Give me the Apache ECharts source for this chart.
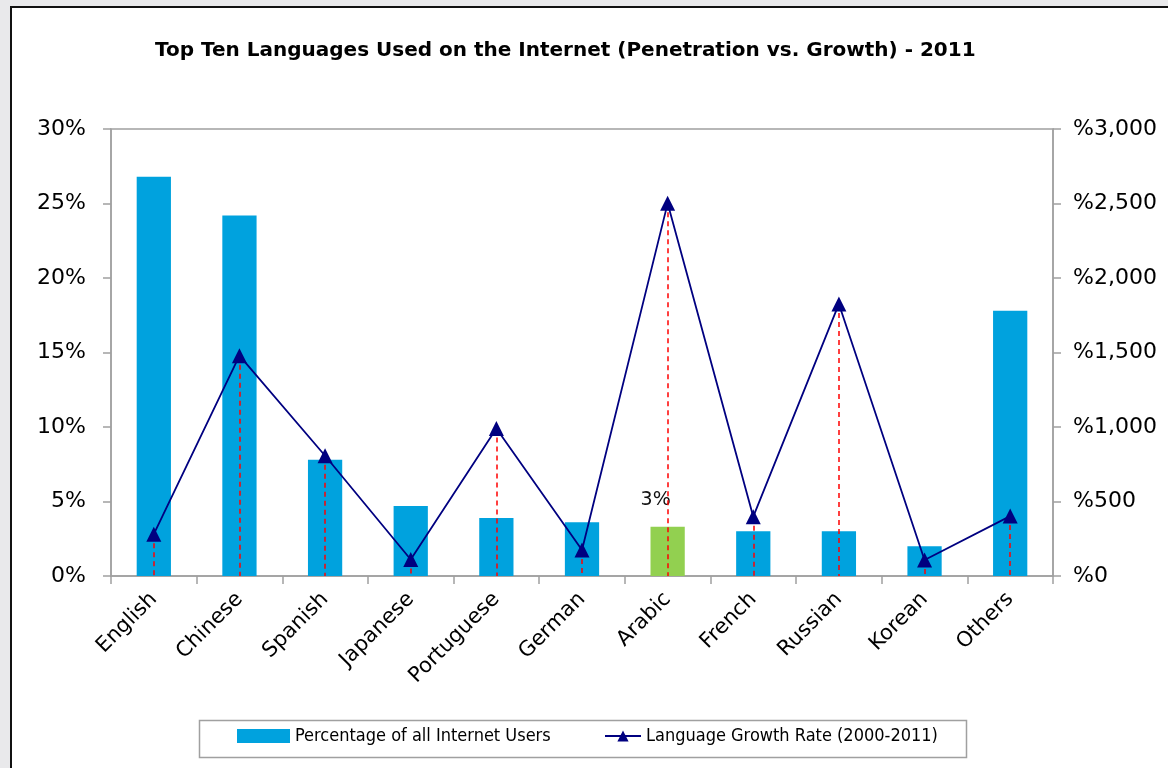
<!DOCTYPE html>
<html>
<head>
<meta charset="utf-8">
<script src="https://cdn.jsdelivr.net/npm/echarts@6/dist/echarts.min.js"></script>
<style>
html,body{margin:0;padding:0;width:1168px;height:768px;overflow:hidden;background:#e9e9eb;}
#chart{position:absolute;left:10px;top:6px;width:1158px;height:762px;background:#fff;border-left:2px solid #111;border-top:2px solid #111;box-sizing:border-box;}
</style>
</head>
<body>
<div id="chart"></div>
<script>
const categories = ['English','Chinese','Spanish','Japanese','Portuguese','German','Arabic','French','Russian','Korean','Others'];
const userShare = [26.8, 24.2, 7.8, 4.7, 3.9, 3.6, 3.3, 3.0, 3.0, 2.0, 17.8];
const growthRate = [281, 1479, 807, 111, 990, 174, 2501, 398, 1826, 107, 402];
const leftTicks = [0, 5, 10, 15, 20, 25, 30];
const rightTicks = [0, 500, 1000, 1500, 2000, 2500, 3000];
const highlightIndex = 6;
const highlightLabel = '3%';
const barName = 'Percentage of all Internet Users';
const lineName = 'Language Growth Rate (2000-2011)';

const font = 'DejaVu Sans';
const chart = echarts.init(document.getElementById('chart'));

const barData = userShare.map((v, i) => i === highlightIndex ? {
  value: v,
  itemStyle: { color: '#92D050' },
  label: { show: true, position: 'top', distance: 17, offset: [-12, 0], formatter: highlightLabel, fontSize: 19, color: '#111', fontFamily: font }
} : v);

const dropLines = growthRate.map((v, i) => [
  { xAxis: i, yAxis: v },
  { xAxis: i, yAxis: 0 }
]);

const legendText = { fontFamily: 'DejaVu Sans Condensed', fontSize: 18, color: '#000' };

chart.setOption({
  animation: false,
  title: {
    text: 'Top Ten Languages Used on the Internet (Penetration vs. Growth) - 2011',
    left: 138, top: 28,
    textStyle: { fontFamily: font, fontWeight: 'bold', fontSize: 20, color: '#000' }
  },
  grid: { left: 99, right: 115, top: 121, bottom: 192, show: true, borderColor: '#A0A0A0', borderWidth: 1.5 },
  graphic: [{
    type: 'rect', left: 185, top: 710,
    shape: { width: 767, height: 37 },
    style: { fill: 'none', stroke: '#A0A0A0', lineWidth: 1.5 },
    silent: true
  }],
  legend: [
    {
      left: 225, top: 719, padding: 0,
      itemWidth: 53, itemHeight: 14, itemGap: 5,
      textStyle: legendText,
      data: [{ name: barName, icon: 'rect' }]
    },
    {
      left: 592, top: 719, padding: 0,
      itemWidth: 36, itemHeight: 14, itemGap: 5,
      textStyle: legendText,
      data: [{ name: lineName }]
    }
  ],
  xAxis: {
    type: 'category', data: categories, boundaryGap: true,
    axisLine: { lineStyle: { color: '#A0A0A0', width: 1.5 } },
    axisTick: { show: true, length: 8, alignWithLabel: false, lineStyle: { color: '#A0A0A0', width: 1.5 } },
    axisLabel: { rotate: 45, margin: 20, fontSize: 21, fontFamily: font, color: '#000' }
  },
  yAxis: [
    {
      type: 'value', min: 0, max: 30, interval: 5,
      axisLine: { show: true, lineStyle: { color: '#A0A0A0', width: 1.5 } },
      axisTick: { show: true, length: 8, lineStyle: { color: '#A0A0A0', width: 1.5 } },
      splitLine: { show: false },
      axisLabel: { fontSize: 22, fontFamily: font, color: '#000', margin: 25, formatter: v => v + '%' }
    },
    {
      type: 'value', min: 0, max: 3000, interval: 500,
      axisLine: { show: true, lineStyle: { color: '#A0A0A0', width: 1.5 } },
      axisTick: { show: true, length: 8, lineStyle: { color: '#A0A0A0', width: 1.5 } },
      splitLine: { show: false },
      axisLabel: { fontSize: 22, fontFamily: font, color: '#000', margin: 20, formatter: v => '%' + v.toLocaleString('en-US') }
    }
  ],
  series: [
    {
      name: barName, type: 'bar', data: barData,
      yAxisIndex: 0, barWidth: '40%', itemStyle: { color: '#00A2DE' }
    },
    {
      name: lineName, type: 'line', data: growthRate,
      yAxisIndex: 1, symbol: 'triangle', symbolSize: 15, z: 5,
      lineStyle: { color: '#000080', width: 1.8 },
      itemStyle: { color: '#000080' },
      markLine: {
        silent: true, symbol: 'none', z: 4,
        label: { show: false },
        lineStyle: { color: '#FF0000', type: [5, 4], width: 1.5 },
        data: dropLines
      }
    }
  ]
});
</script>
</body>
</html>
